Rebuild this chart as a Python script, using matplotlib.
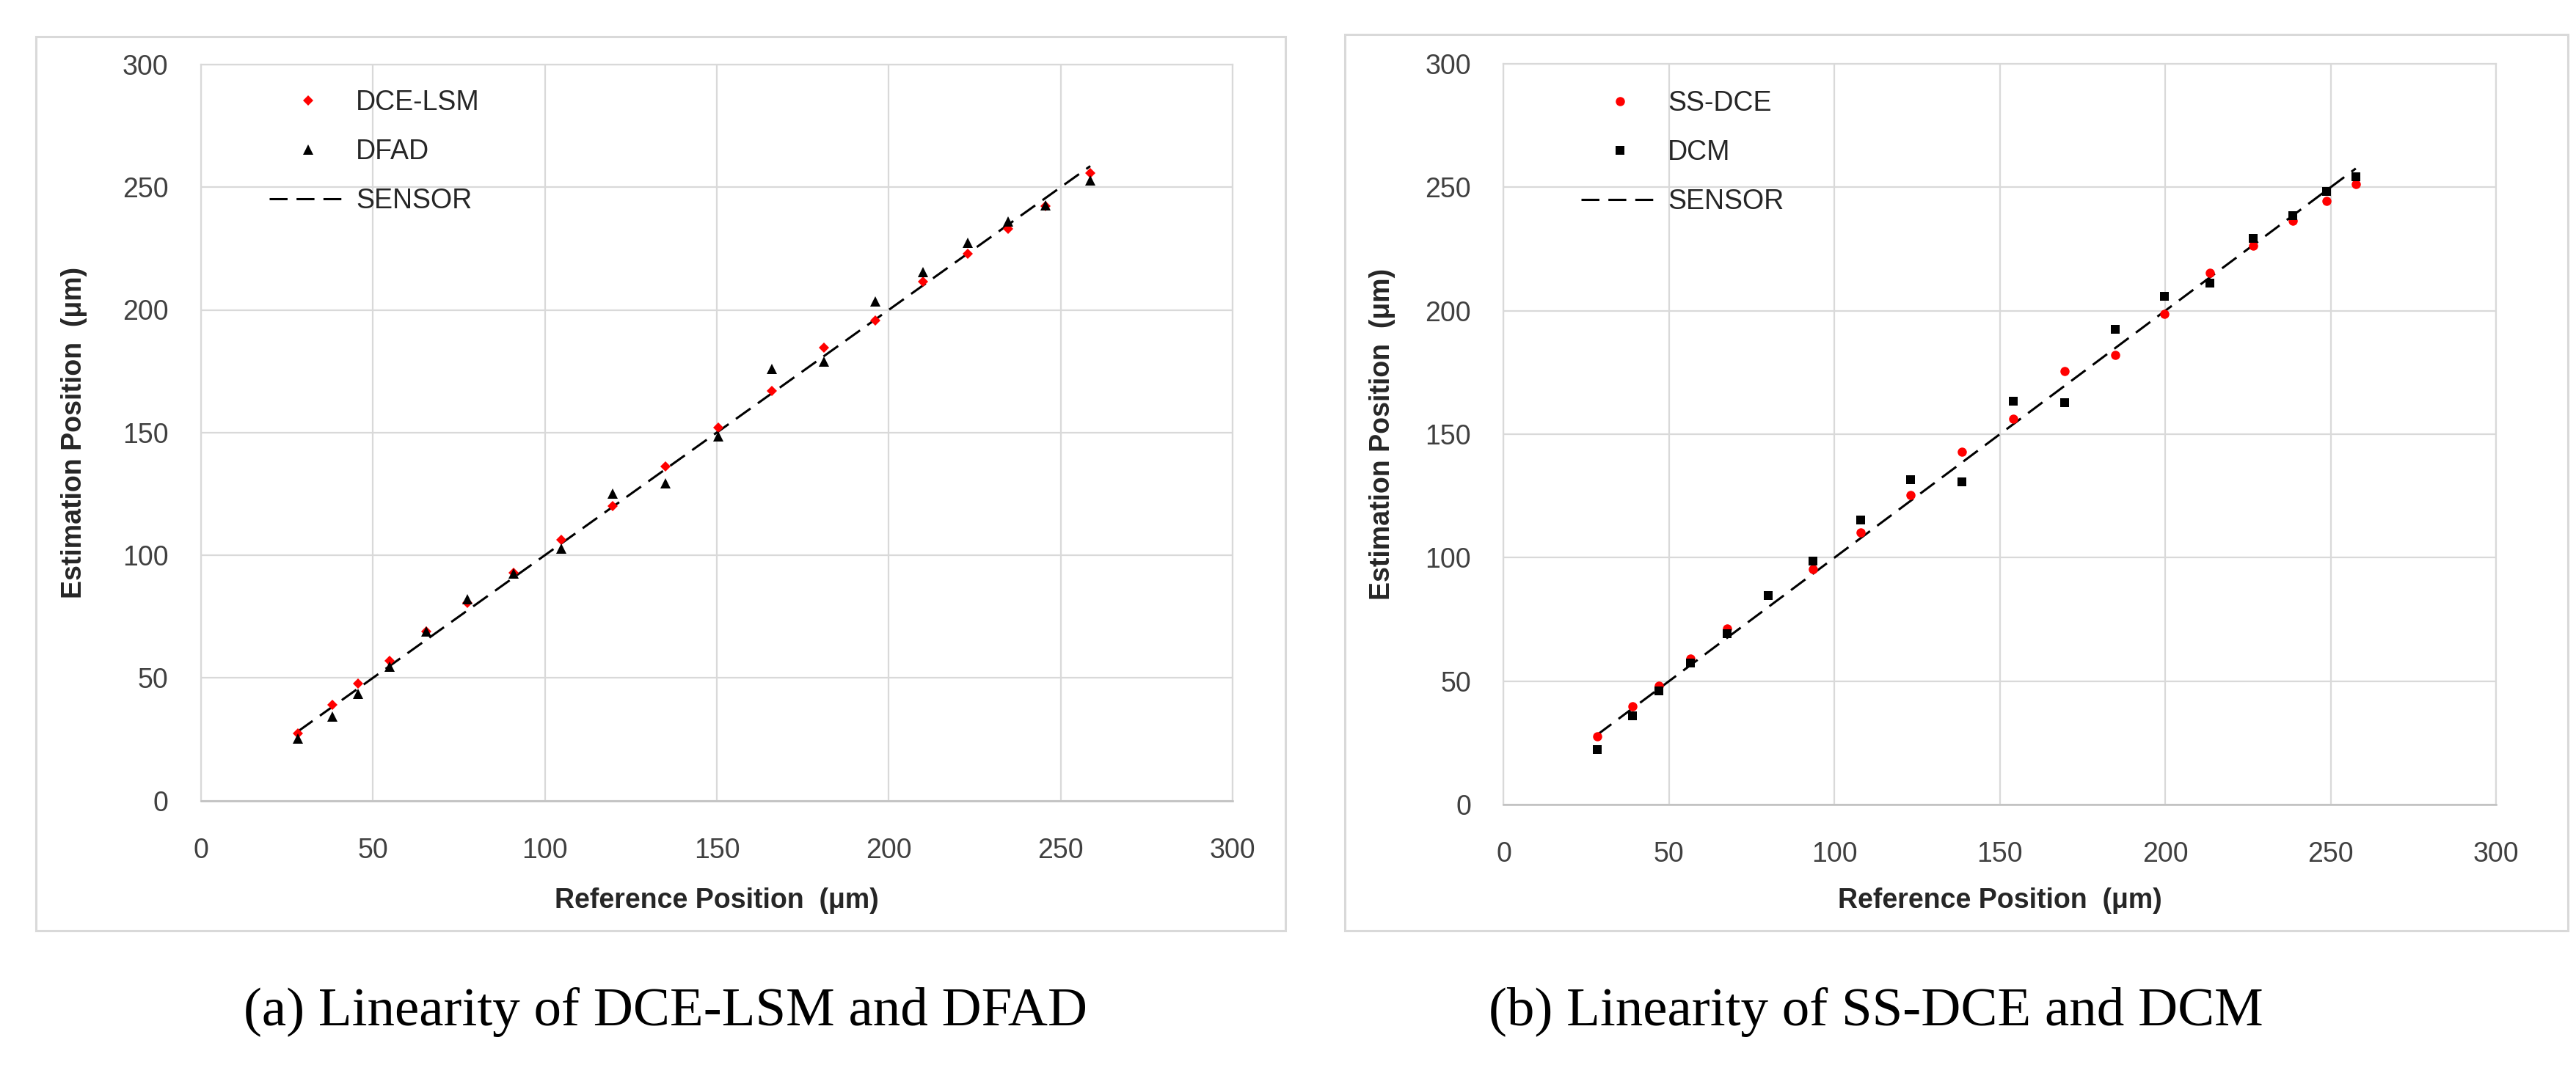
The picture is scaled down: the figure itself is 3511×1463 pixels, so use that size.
import numpy as np
import matplotlib
matplotlib.use("Agg")
import matplotlib.pyplot as plt
from matplotlib.patches import Rectangle

# ---------------- data ----------------
ref_a = [28.2, 38.1, 45.7, 54.9, 65.5, 77.5, 90.8, 104.8, 119.6, 135.0,
         150.4, 165.9, 181.1, 196.0, 209.9, 223.0, 234.8, 245.6, 258.6]
dce_lsm = [27.5, 39.1, 47.7, 57.0, 69.0, 80.6, 92.7, 106.4, 120.0, 136.3,
           152.0, 166.9, 184.6, 195.7, 211.5, 222.8, 233.1, 242.2, 255.7]
dfad = [25.3, 34.2, 43.4, 54.7, 69.0, 82.2, 92.5, 102.8, 125.1, 129.4,
        148.5, 175.9, 178.9, 203.5, 215.4, 227.4, 236.1, 242.7, 252.7]
sensor_a = [28.2, 38.1, 45.7, 54.9, 65.5, 77.5, 90.8, 104.8, 119.6, 135.0,
            150.4, 165.9, 181.1, 196.0, 209.9, 223.0, 234.8, 245.6, 258.6]

ref_b = [28.2, 38.9, 46.9, 56.5, 67.5, 80.0, 93.4, 107.9, 122.9, 138.6,
         154.1, 169.6, 184.8, 199.7, 213.6, 226.6, 238.6, 248.8, 257.6]
ss_dce = [27.5, 39.9, 48.1, 59.2, 71.4, np.nan, 95.4, 110.1, 125.4, 142.9,
          156.2, 175.5, 182.1, 198.8, 215.4, 226.4, 236.5, 244.5, 251.4]
dcm = [22.3, 35.9, 46.1, 57.2, 69.3, 84.8, 98.7, 115.1, 131.6, 130.7,
       163.4, 162.9, 192.6, 205.9, 211.3, 229.4, 238.5, 248.2, 254.3]
sensor_b = [28.2, 38.9, 46.9, 56.5, 67.5, 80.0, 93.4, 107.9, 122.9, 138.6,
            154.1, 169.6, 184.8, 199.7, 213.6, 226.6, 238.6, 248.8, 257.6]

ticks = [0, 50, 100, 150, 200, 250, 300]
xlabel_text = "Reference Position  (\u03bcm)"
ylabel_text = "Estimation Position  (\u03bcm)"
caption_a = "(a) Linearity of DCE-LSM and DFAD"
caption_b = "(b) Linearity of SS-DCE and DCM"

# ---------------- style ----------------
plt.rcParams['font.family'] = ['Liberation Sans', 'DejaVu Sans']
W, H = 3512, 1463
fig = plt.figure(figsize=(W / 100, H / 100), dpi=100)

GRID = '#d9d9d9'
TICKC = '#404040'


def fx(px):
    return px / W


def fy(py):
    return 1 - py / H


# chart-area frames
for (x0, y0, x1, y1) in [(49, 50, 1752, 1269), (1833, 47, 3500, 1269)]:
    fig.patches.append(Rectangle((fx(x0), fy(y1)), fx(x1) - fx(x0), fy(y0) - fy(y1),
                                 transform=fig.transFigure, fill=False,
                                 edgecolor=GRID, linewidth=2.2, zorder=0))

ax_a = fig.add_axes([fx(274), fy(1091.5), fx(1680) - fx(274), fy(88) - fy(1091.5)])
ax_b = fig.add_axes([fx(2049.5), fy(1097), fx(3402) - fx(2049.5), fy(87) - fy(1097)])


def style_axes(ax):
    ax.set_xlim(0, 300)
    ax.set_ylim(0, 300)
    ax.set_xticks(ticks)
    ax.set_yticks(ticks)
    ax.grid(True, color=GRID, linewidth=1.6, zorder=0)
    ax.set_axisbelow(True)
    for s in ['top', 'right', 'left']:
        ax.spines[s].set_color(GRID)
        ax.spines[s].set_linewidth(1.6)
    ax.spines['bottom'].set_color('#bfbfbf')
    ax.spines['bottom'].set_linewidth(1.8)
    ax.tick_params(axis='both', length=0, labelsize=27, colors=TICKC)
    ax.tick_params(axis='x', pad=36)
    ax.tick_params(axis='y', pad=32)


style_axes(ax_a)
style_axes(ax_b)

# panel (a)
ax_a.plot(ref_a, dce_lsm, linestyle='none', marker='D', markersize=7.5,
          color='#ff0000', markeredgewidth=0, label='DCE-LSM', zorder=3)
ax_a.plot(ref_a, dfad, linestyle='none', marker='^', markersize=9.5,
          color='black', markeredgewidth=0, label='DFAD', zorder=4)
ax_a.plot(ref_a, sensor_a, color='black', linewidth=2.2, dashes=(8, 4),
          label='SENSOR', zorder=2)

# panel (b)
ax_b.plot(ref_b, ss_dce, linestyle='none', marker='o', markersize=9,
          color='#ff0000', markeredgewidth=0, label='SS-DCE', zorder=3)
ax_b.plot(ref_b, dcm, linestyle='none', marker='s', markersize=9,
          color='black', markeredgewidth=0, label='DCM', zorder=4)
ax_b.plot(ref_b, sensor_b, color='black', linewidth=2.2, dashes=(8, 4),
          label='SENSOR', zorder=2)

for ax, anchor in [(ax_a, (fx(367), fy(122))), (ax_b, (fx(2155), fy(123)))]:
    leg = ax.legend(loc='upper left', bbox_to_anchor=anchor,
                    bbox_transform=fig.transFigure, frameon=False,
                    fontsize=27, handlelength=2.85, handletextpad=0.3,
                    labelspacing=0.83, borderpad=0, borderaxespad=0)
    for t in leg.get_texts():
        t.set_color('#262626')

# axis labels
fig.text(fx(101), fy(589.75), ylabel_text, rotation=90, ha='center', va='center',
         fontsize=27, fontweight='bold', color='#262626')
fig.text(fx(1884), fy(592), ylabel_text, rotation=90, ha='center', va='center',
         fontsize=27, fontweight='bold', color='#262626')
fig.text(fx(977), fy(1228), xlabel_text, ha='center', va='center',
         fontsize=27, fontweight='bold', color='#262626')
fig.text(fx(2726), fy(1228), xlabel_text, ha='center', va='center',
         fontsize=27, fontweight='bold', color='#262626')

# captions
fig.text(fx(907), fy(1380), caption_a, ha='center', va='center',
         fontsize=54, family=['Liberation Serif', 'DejaVu Serif'], color='black')
fig.text(fx(2557), fy(1380), caption_b, ha='center', va='center',
         fontsize=54, family=['Liberation Serif', 'DejaVu Serif'], color='black')

fig.savefig('out.png', dpi=100, facecolor='white')
